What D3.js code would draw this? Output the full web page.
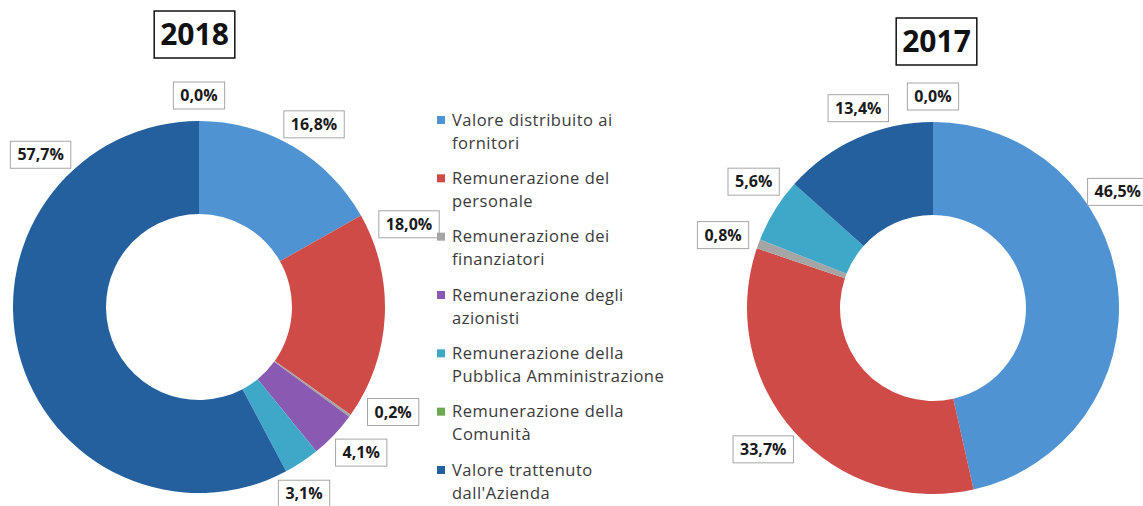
<!DOCTYPE html>
<html>
<head>
<meta charset="utf-8">
<script src="https://cdn.jsdelivr.net/npm/d3@7"></script>
<style>
  body { margin: 0; background: #fff; }
  text { font-family: "Open Sans", sans-serif; }
</style>
</head>
<body>
<script>
// categories (legend text, already split in two lines like the original)
const categories = [
    ["Valore distribuito ai", "fornitori"],
    ["Remunerazione del", "personale"],
    ["Remunerazione dei", "finanziatori"],
    ["Remunerazione degli", "azionisti"],
    ["Remunerazione della", "Pubblica Amministrazione"],
    ["Remunerazione della", "Comunità"],
    ["Valore trattenuto", "dall'Azienda"]
];
const colors = ["#4f93d3", "#cf4b48", "#a5a5a5", "#8a59b2", "#3fa8c8", "#6ba94f", "#24609e"];

// percentages, same order as categories (null = no slice / no label)
const values2018 = [16.8, 18.0, 0.2, 4.1, 3.1, 0.0, 57.7];
const values2017 = [46.5, 33.7, 0.8, null, 5.6, 0.0, 13.4];

// order of the slices around the ring, clockwise from 12 o'clock
const sliceOrder = [0, 1, 2, 3, 4, 6, 5];

let W = 1143, H = 506;
let outerR = 186, innerR = 93;

let svg = d3.select("body").append("svg")
    .attr("width", W)
    .attr("height", H);

let charts = [
    { year: "2018", values: values2018, cx: 199, cy: 307, tx: 194.5, ty: 34.5,
      shift: { 1: -26, 2: -6, 4: 5.5, 6: 60 } },   // label angle tweaks (deg), like excel's best fit
    { year: "2017", values: values2017, cx: 933, cy: 308, tx: 936.5, ty: 41.5,
      shift: { 0: -27, 4: 5, 6: 5 } }
];

let fmt = v => d3.format(".1f")(v).replace(".", ",") + "%";

let pie = d3.pie()
    .sort(null)
    .value(i => charts.current.values[i] || 0);

let arc = d3.arc().innerRadius(innerR).outerRadius(outerR);

charts.forEach(function (c) {
    charts.current = c;
    let arcs = pie(sliceOrder);

    let g = svg.append("g")
        .attr("transform", "translate(" + c.cx + "," + c.cy + ")");

    g.selectAll("path")
        .data(arcs)
        .enter().append("path")
        .attr("d", arc)
        .attr("fill", d => colors[d.data]);

    // data labels
    let lab = g.selectAll(".lab")
        .data(arcs.filter(d => c.values[d.data] !== null))
        .enter().append("g")
        .attr("class", "lab");

    lab.each(function (d) {
        let el = d3.select(this);
        let a = (d.startAngle + d.endAngle) / 2 + (c.shift[d.data] || 0) * Math.PI / 180;
        let r = outerR + 12;
        let ax = Math.sin(a) * r, ay = -Math.cos(a) * r;

        let t = el.append("text")
            .attr("text-anchor", "middle")
            .attr("dy", "0.35em")
            .style("font-size", "16px")
            .style("font-weight", "bold")
            .attr("fill", "#1a1a1a")
            .text(fmt(c.values[d.data]));
        let tw = t.node().getBBox().width;
        let bw = tw + 14, bh = 27;
        let x = ax + Math.sin(a) * bw / 2, y = ay - Math.cos(a) * bh / 2;
        // keep the text itself inside the page (the box may still run off)
        x = Math.min(x, W - c.cx - tw / 2 - 2);
        t.attr("x", x).attr("y", y);
        el.insert("rect", "text")
            .attr("x", x - bw / 2).attr("y", y - bh / 2)
            .attr("width", bw).attr("height", bh)
            .attr("fill", "#fff")
            .attr("stroke", "#a6a6a6")
            .attr("stroke-width", 1);
    });

    // title in a box
    let tg = svg.append("g");
    let tt = tg.append("text")
        .attr("x", c.tx).attr("y", c.ty)
        .attr("text-anchor", "middle")
        .attr("dy", "0.36em")
        .style("font-size", "30px")
        .style("font-weight", "bold")
        .attr("fill", "#111")
        .text(c.year);
    let tw = tt.node().getBBox().width + 12;
    tg.insert("rect", "text")
        .attr("x", c.tx - tw / 2).attr("y", c.ty - 23.5)
        .attr("width", tw).attr("height", 47)
        .attr("fill", "#fff")
        .attr("stroke", "#111")
        .attr("stroke-width", 1.5);
});

// legend
let ly = d3.scaleLinear().domain([0, categories.length - 1]).range([120, 470]);

let leg = svg.selectAll(".leg")
    .data(categories)
    .enter().append("g")
    .attr("class", "leg")
    .attr("transform", (d, i) => "translate(437," + ly(i) + ")");

leg.append("rect")
    .attr("x", 0).attr("y", -4)
    .attr("width", 8).attr("height", 8)
    .attr("fill", (d, i) => colors[i]);

leg.append("text")
    .style("font-size", "16.5px")
    .style("letter-spacing", "0.5px")
    .attr("fill", "#3a3a3a")
    .selectAll("tspan")
    .data(d => d)
    .enter().append("tspan")
    .attr("x", 15)
    .attr("y", (d, j) => j * 23)
    .attr("dy", "0.35em")
    .text(d => d);
</script>
</body>
</html>
